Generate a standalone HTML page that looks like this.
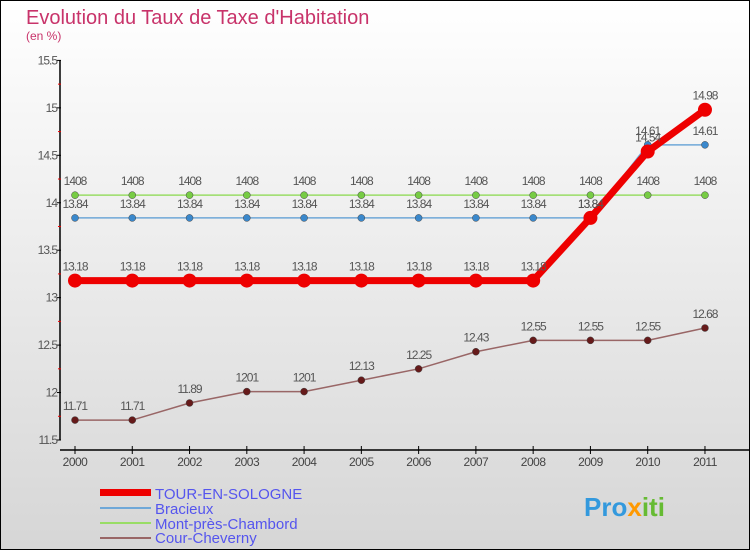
<!DOCTYPE html>
<html><head><meta charset="utf-8"><style>
html,body{margin:0;padding:0}
body{width:750px;height:550px;overflow:hidden;font-family:"Liberation Sans",sans-serif}
svg text{font-family:"Liberation Sans",sans-serif}
</style></head><body>
<svg id="chart" width="750" height="550" xmlns="http://www.w3.org/2000/svg">
<defs><linearGradient id="bg" x1="0" y1="0" x2="0" y2="1"><stop offset="0" stop-color="#ffffff"/><stop offset="1" stop-color="#d6d6d6"/></linearGradient></defs>
<rect x="0.5" y="0.5" width="749" height="549" fill="url(#bg)" stroke="#000"/>
<text x="26" y="24" font-size="20" fill="#c8336a">Evolution du Taux de Taxe d'Habitation</text>
<text x="26" y="40" font-size="12" fill="#c8336a">(en %)</text>
<g id="axes"></g>
<g id="series"></g>
<g id="legend">
<rect x="100" y="489" width="51" height="7" fill="#e00"/>
<text x="155" y="499" font-size="15" fill="#5555ee">TOUR-EN-SOLOGNE</text>
<rect x="100" y="507" width="51" height="2" fill="#6fa8d8"/>
<text x="155" y="514" font-size="15" fill="#5555ee">Bracieux</text>
<rect x="100" y="522" width="51" height="2" fill="#99dd66"/>
<text x="155" y="529" font-size="15" fill="#5555ee">Mont-près-Chambord</text>
<rect x="100" y="537" width="51" height="2" fill="#996666"/>
<text x="155" y="543" font-size="15" fill="#5555ee">Cour-Cheverny</text>
</g>
<text x="584" y="516" font-size="26" font-weight="bold" fill="#3399dd">Pro<tspan fill="#ff9900">x</tspan><tspan fill="#66bb33">iti</tspan></text>
</svg>
<script>
const years=[2000,2001,2002,2003,2004,2005,2006,2007,2008,2009,2010,2011];
const yTicks=[11.5,12,12.5,13,13.5,14,14.5,15,15.5];
const tour=[13.18,13.18,13.18,13.18,13.18,13.18,13.18,13.18,13.18,13.84,14.54,14.98];
const bracieux=[13.84,13.84,13.84,13.84,13.84,13.84,13.84,13.84,13.84,13.84,14.61,14.61];
const mont=[14.08,14.08,14.08,14.08,14.08,14.08,14.08,14.08,14.08,14.08,14.08,14.08];
const cour=[11.71,11.71,11.89,12.01,12.01,12.13,12.25,12.43,12.55,12.55,12.55,12.68];
const tourLabels=["13.18","13.18","13.18","13.18","13.18","13.18","13.18","13.18","13.18","13.84","14.54","14.98"];
const bracLabels=["13.84","13.84","13.84","13.84","13.84","13.84","13.84","13.84","13.84","13.84","14.61","14.61"];
const montLabels=["1408","1408","1408","1408","1408","1408","1408","1408","1408","1408","1408","1408"];
const courLabels=["11.71","11.71","11.89","1201","1201","12.13","12.25","12.43","12.55","12.55","12.55","12.68"];
const NS="http://www.w3.org/2000/svg";
const x=i=>75+i*57.27;
const y=v=>440-(v-11.5)*94.9;
function mk(tag,attrs,parent,txt){const e=document.createElementNS(NS,tag);for(const k in attrs)e.setAttribute(k,attrs[k]);if(txt!==undefined)e.textContent=txt;parent.appendChild(e);return e;}
const ax=document.getElementById('axes');
let e=mk('line',{x1:60,y1:60,x2:60,y2:440,stroke:'#000','stroke-width':1.5},ax);


e=mk('line',{x1:60,y1:450,x2:750,y2:450,stroke:'#000','stroke-width':1.5},ax);


yTicks.forEach(t=>{
  mk('line',{x1:57,y1:y(t),x2:61,y2:y(t),stroke:'#000'},ax);
  if(t<15.5) mk('line',{x1:58,y1:y(t+0.25),x2:61,y2:y(t+0.25),stroke:'#e00'},ax);
  e=mk('text',{x:57,y:y(t)+4,'font-size':12,'text-anchor':'end',fill:'#555','letter-spacing':'-1'},ax,String(t));
  
  
});
years.forEach((yr,i)=>{
  mk('line',{x1:x(i),y1:446,x2:x(i),y2:454,stroke:'#000'},ax);
  e=mk('text',{x:x(i),y:466,'font-size':12,'text-anchor':'middle',fill:'#444','letter-spacing':'-0.5'},ax,String(yr));
  
  
});
const sg=document.getElementById('series');
function series(vals,labels,color,dot,w,r,name){
  const g=mk('g',{},sg);
  
  
  const pts=vals.map((v,i)=>x(i)+','+y(v)).join(' ');
  const l=mk('polyline',{points:pts,fill:'none',stroke:color,'stroke-width':w,'stroke-linejoin':'round'},g);
  
  
  vals.forEach((v,i)=>{
    const c=mk('circle',{cx:x(i),cy:y(v),r:r,fill:dot,stroke:w>3?'none':'#444','stroke-width':0.5},g);
    
    
    const t=mk('text',{x:x(i),y:y(v)-10,'font-size':12,'text-anchor':'middle',fill:'#555','letter-spacing':'-1'},g,labels[i]);
    
    
  });
}
series(mont,montLabels,'#99dd66','#77cc44',1.5,3.5,'mont-pres-chambord');
series(bracieux,bracLabels,'#6fa8d8','#3a88cc',1.5,3.5,'bracieux');
series(cour,courLabels,'#996666','#661a1a',1.5,3.5,'cour-cheverny');
series(tour,tourLabels,'#ee0000','#ee0000',7,7,'tour-en-sologne');
</script>
</body></html>
